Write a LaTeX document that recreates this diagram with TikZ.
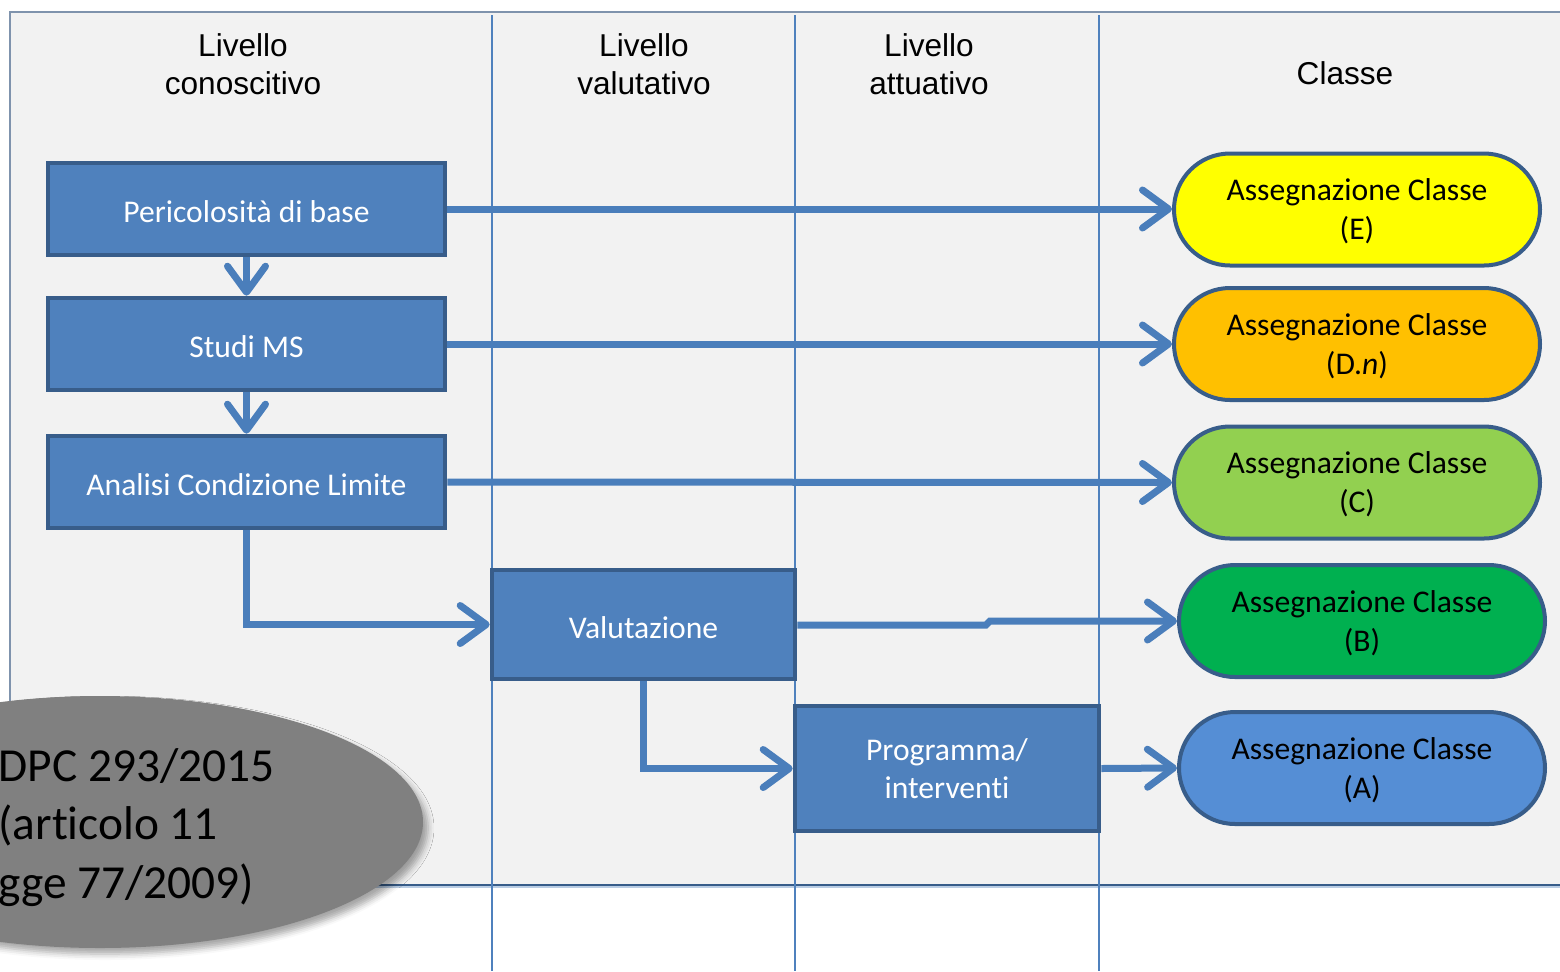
\documentclass[tikz,border=0pt]{standalone}
\usepackage{fontspec}
\setmainfont{Carlito}[RawFeature={-liga;-clig;-dlig;-calt}]
\newfontfamily\arialf{Liberation Sans}
\usetikzlibrary{arrows.meta,shadows.blur,shapes.geometric}
\definecolor{boxfill}{HTML}{4F81BD}
\definecolor{boxline}{HTML}{385D8A}
\definecolor{arrowc}{HTML}{4A7EBB}
\definecolor{bggray}{HTML}{F2F2F2}
\definecolor{frameln}{HTML}{7F93AD}
\definecolor{laneln}{HTML}{4F81BD}
\definecolor{cE}{HTML}{FFFF00}
\definecolor{cD}{HTML}{FFC000}
\definecolor{cC}{HTML}{92D050}
\definecolor{cB}{HTML}{00B050}
\definecolor{cA}{HTML}{558ED5}
\definecolor{ellgray}{HTML}{808080}
\newcommand{\lowr}[1]{\raisebox{-1.5pt}[\height][\depth]{#1}}
\newcommand{\clss}[1]{\lowr{\begin{tabular}{@{}c@{}}Assegnazione Classe\\#1\end{tabular}}}
\tikzset{
  procbox/.style={draw=boxline, line width=2.3pt, fill=boxfill, text=white, inner sep=0pt,
    align=center, font=\fontsize{15.8}{19}\selectfont},
  classbox/.style={draw=boxline, line width=2pt, inner sep=0pt, minimum width=183pt,
    minimum height=56pt, rounded corners=28pt, align=center,
    font=\fontsize{15.8}{19.5}\selectfont},
  header/.style={align=center, font=\arialf\fontsize{15.8}{19}\selectfont, inner sep=0pt},
  flow/.style={draw=arrowc, line width=3.5pt,
    -{Straight Barb[length=13pt,width=19pt,round]}},
  lane/.style={draw=laneln, line width=1pt},
}
\begin{document}
\begin{tikzpicture}[x=0.5pt,y=-0.5pt]
\useasboundingbox (0,0) rectangle (1560,971);
% background
\fill[bggray] (10,12) rectangle (1560,885);
\draw[frameln, line width=0.8pt] (10,885) -- (10,12) -- (1560,12);
\draw[boxline, line width=0.8pt] (10,885) -- (1560,885);
\draw[laneln!40, line width=0.8pt] (10,887) -- (1560,887);
% lanes
\coordinate (l1t) at (492,15); \coordinate (l1b) at (492,971);
\coordinate (l2t) at (795,15); \coordinate (l2b) at (795,971);
\coordinate (l3t) at (1099,15); \coordinate (l3b) at (1099,971);
\draw[lane] (l1t) -- (l1b);
\draw[lane] (l2t) -- (l2b);
\draw[lane] (l3t) -- (l3b);
% headers
\node[header] (h1) at (243,64) {Livello\\conoscitivo};
\node[header] (h2) at (644,64) {Livello\\valutativo};
\node[header] (h3) at (929,64) {Livello\\attuativo};
\node[header] (h4) at (1345,73) {Classe};
% process boxes
\node[procbox, minimum width=198.5pt, minimum height=46pt] (per) at (246.5,209) {\lowr{Pericolosità di base}};
\node[procbox, minimum width=198.5pt, minimum height=46pt] (stu) at (246.5,344) {\lowr{Studi MS}};
\node[procbox, minimum width=198.5pt, minimum height=46pt] (ana) at (246.5,482) {\lowr{Analisi Condizione Limite}};
\node[procbox, minimum width=151.5pt, minimum height=54.5pt] (val) at (643.5,624.5) {\lowr{Valutazione}};
\node[procbox, minimum width=152pt, minimum height=62.5pt] (pro) at (947,768.5) {\lowr{\begin{tabular}{@{}c@{}}Programma/\\interventi\end{tabular}}};
% class boxes
\node[classbox, fill=cE] (cE) at (1357,209.5) {\clss{(E)}};
\node[classbox, fill=cD] (cD) at (1357,344) {\clss{(D.\textit{n})}};
\node[classbox, fill=cC] (cC) at (1357,482.5) {\clss{(C)}};
\node[classbox, fill=cB] (cB) at (1362,621) {\clss{(B)}};
\node[classbox, fill=cA] (cA) at (1362,768) {\clss{(A)}};
% connectors
\draw[flow] (per.east) -- (cE.west |- per.east);
\draw[flow] (stu.east) -- (cD.west |- stu.east);
\draw[flow] (ana.east) -- (cC.west);
\draw[flow] (per.south) -- (stu.north);
\draw[flow] (stu.south) -- (ana.north);
\draw[flow] (ana.south) |- (val.west);
\draw[flow] (val.south) |- (pro.west);
\coordinate (jog1) at (986,625);
\coordinate (jog2) at (990,621);
\draw[flow] (val.east |- jog1) -- (jog1) -- (jog2) -- (cB.west);
\draw[flow] (pro.east) -- (cA.west);
% ellipse note
\node[ellipse, fill=ellgray, minimum width=323pt, minimum height=126pt, inner sep=0pt,
  blur shadow={shadow xshift=2.5pt, shadow yshift=-3pt, shadow blur radius=3pt, shadow opacity=35}] (note) at (100,822) {};
\node[anchor=base west, inner sep=0pt, font=\fontsize{23.7}{29}\selectfont] (n1) at (-2,781) {DPC 293/2015};
\node[anchor=base west, inner sep=0pt, font=\fontsize{23.7}{29}\selectfont] (n2) at (-2,839) {(articolo 11};
\node[anchor=base west, inner sep=0pt, font=\fontsize{23.7}{29}\selectfont] (n3) at (-2,898) {gge 77/2009)};
\end{tikzpicture}
\end{document}
